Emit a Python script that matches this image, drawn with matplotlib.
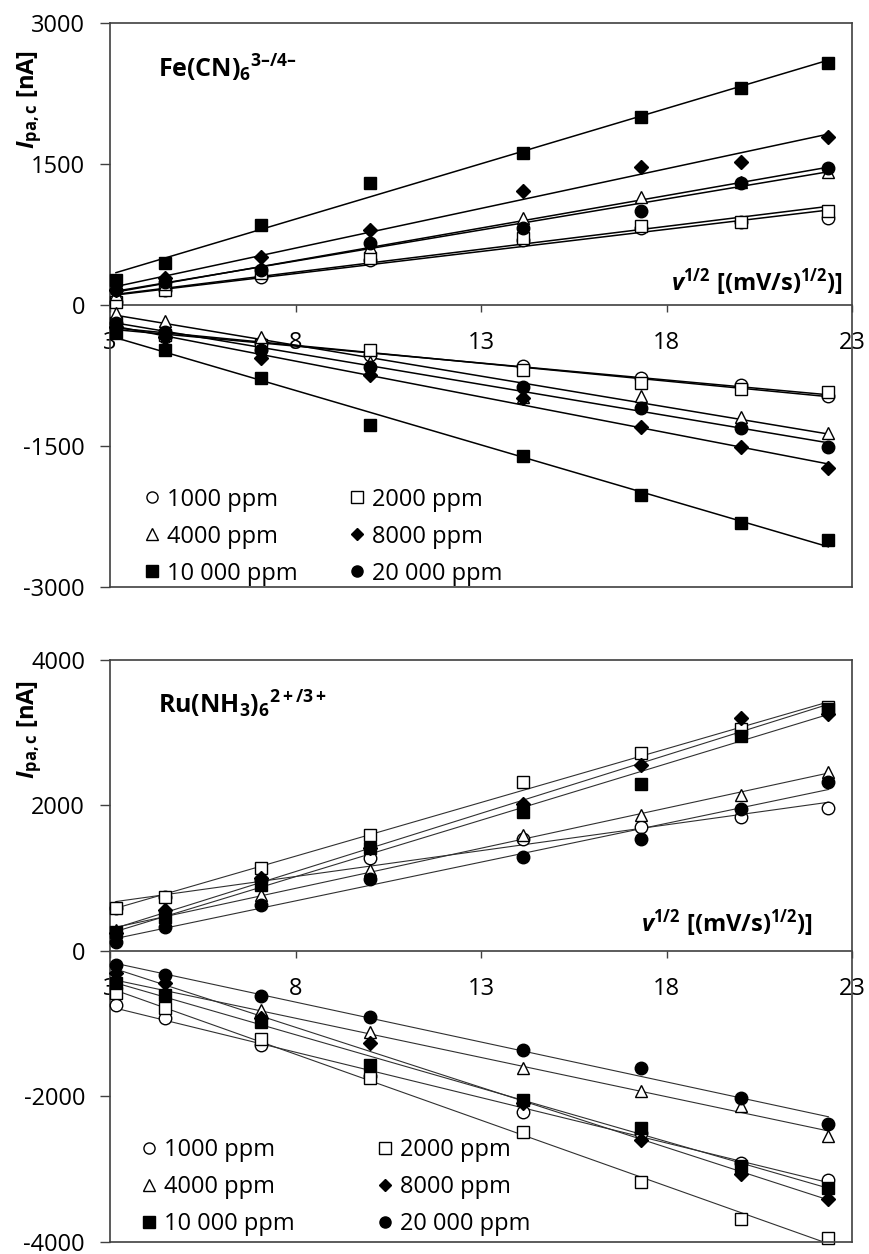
import numpy as np
import matplotlib.pyplot as plt
from matplotlib.lines import Line2D

plt.rcParams['font.family'] = ['Open Sans', 'DejaVu Sans']
plt.rcParams['axes.unicode_minus'] = False
plt.rcParams['mathtext.fontset'] = 'custom'
plt.rcParams['mathtext.rm'] = 'Open Sans'
plt.rcParams['mathtext.it'] = 'Open Sans:italic'
plt.rcParams['mathtext.bf'] = 'Open Sans:bold'
plt.rcParams['mathtext.bfit'] = 'Open Sans:italic:bold'

# square root of scan rate (10, 20, 50, 100, 200, 300, 400, 500 mV/s)
sqrt_v = [3.16, 4.47, 7.07, 10.0, 14.14, 17.32, 20.0, 22.36]
conc_labels = ['1000 ppm', '2000 ppm', '4000 ppm', '8000 ppm', '10 000 ppm', '20 000 ppm']

# Fe(CN)6 3-/4-, rows in the order of conc_labels
fe_anodic = [
    [30, 160, 298, 479, 692, 819, 883, 926],
    [30, 160, 340, 500, 713, 840, 883, 1000],
    [120, 220, 400, 620, 926, 1149, 1309, 1415],
    [160, 287, 511, 798, 1213, 1468, 1522, 1787],
    [266, 447, 851, 1298, 1617, 2000, 2309, 2575],
    [160, 245, 372, 660, 819, 1000, 1298, 1457],
]
fe_cathodic = [
    [-231, -337, -408, -532, -649, -780, -851, -968],
    [-195, -319, -426, -479, -692, -833, -894, -922],
    [-88, -177, -337, -603, -980, -968, -1188, -1365],
    [-231, -337, -567, -745, -993, -1295, -1514, -1738],
    [-301, -479, -780, -1277, -1603, -2022, -2323, -2500],
    [-195, -284, -479, -656, -869, -1099, -1312, -1514],
]

# Ru(NH3)6 2+/3+
ru_anodic = [
    [586, 745, 974, 1272, 1546, 1705, 1843, 1971],
    [586, 745, 1143, 1592, 2323, 2726, 3055, 3352],
    [288, 471, 768, 1111, 1592, 1866, 2140, 2460],
    [247, 562, 997, 1409, 2026, 2552, 3206, 3261],
    [265, 471, 906, 1409, 1911, 2291, 2950, 3330],
    [128, 334, 631, 983, 1285, 1546, 1957, 2323],
]
ru_cathodic = [
    [-741, -923, -1290, -1715, -2218, -2500, -2913, -3142],
    [-580, -786, -1211, -1747, -2493, -3179, -3681, -3942],
    [-421, -558, -810, -1107, -1610, -1930, -2136, -2548],
    [-306, -443, -923, -1266, -2090, -2593, -3060, -3416],
    [-443, -604, -970, -1564, -2054, -2433, -2959, -3256],
    [-192, -329, -617, -910, -1358, -1610, -2021, -2374],
]

markers = ['o', 's', '^', 'D', 's', 'o']
faces = ['white', 'white', 'white', 'black', 'black', 'black']
msizes = [9, 9, 9, 7, 9, 9]

frame_col = '#404040'


def draw_panel(ax, anodic, cathodic, ylim, yticks, title, line_col, line_w,
               xlab_pos, ylab_y, leg_anchor, colspace):
    x = np.array(sqrt_v)
    for series in (anodic, cathodic):
        for i, vals in enumerate(series):
            k, b = np.polyfit(x, vals, 1)
            ax.plot([x[0], x[-1]], [k * x[0] + b, k * x[-1] + b],
                    color=line_col, lw=line_w, zorder=2)
            ax.plot(x, vals, ls='none', marker=markers[i], ms=msizes[i],
                    mfc=faces[i], mec='black', mew=1.0, zorder=3, clip_on=False)

    ax.set_xlim(3, 23)
    ax.set_ylim(*ylim)
    ax.set_xticks([3, 8, 13, 18, 23])
    ax.set_yticks(yticks)
    ax.spines['bottom'].set_position(('data', 0))
    for s in ax.spines.values():
        s.set_color(frame_col)
        s.set_linewidth(1.2)
    ax.plot([0, 1], [0, 0], transform=ax.transAxes, color=frame_col, lw=1.2,
            clip_on=False, zorder=4)
    ax.tick_params(axis='x', direction='out', length=5, width=1.0,
                   color=frame_col, pad=14, labelsize=17)
    ax.tick_params(axis='y', direction='out', length=7, width=1.0,
                   color=frame_col, pad=11, labelsize=17)

    ax.text(0.064, ylab_y[0], title, transform=ax.transAxes, ha='left',
            va='center', fontsize=18)
    ax.text(-0.108, ylab_y[1], r'$\mathbfit{I}_{\mathbf{pa,c}}$ [nA]',
            transform=ax.transAxes, rotation=90, ha='center', va='center',
            fontsize=17, fontweight='bold')
    ax.text(xlab_pos[0], xlab_pos[1],
            r'$\mathbfit{v}^{\mathbf{1/2}}\ \mathbf{[(mV/s)^{1/2})]}$',
            ha='right', va='center', fontsize=17)

    handles = [Line2D([], [], ls='none', marker=markers[i], ms=msizes[i] - 1,
                      mfc=faces[i], mec='black', mew=1.0) for i in range(6)]
    order = [0, 2, 4, 1, 3, 5]
    ax.legend([handles[i] for i in order], [conc_labels[i] for i in order],
              ncol=2, loc='upper left', bbox_to_anchor=leg_anchor,
              frameon=False, fontsize=17, handlelength=0.6,
              handletextpad=0.35, borderpad=0, borderaxespad=0,
              labelspacing=0.55, columnspacing=colspace)


fig = plt.figure(figsize=(8.69, 12.54), dpi=100)
ax1 = fig.add_axes([0.1266, 0.532, 0.854, 0.4498])
ax2 = fig.add_axes([0.1266, 0.0096, 0.854, 0.4641])

draw_panel(ax1, fe_anodic, fe_cathodic, (-3000, 3000),
           [-3000, -1500, 0, 1500, 3000],
           r'$\mathbf{Fe(CN)_6{}^{3\endash/4\endash}}$', 'black', 1.1,
           (22.73, 234), (0.92, 0.8635), (0.047, 0.176), 2.2)
draw_panel(ax2, ru_anodic, ru_cathodic, (-4000, 4000),
           [-4000, -2000, 0, 2000, 4000],
           r'$\mathbf{Ru(NH_3)_6{}^{2+/3+}}$', '#303030', 0.8,
           (21.93, 384), (0.923, 0.88), (0.043, 0.178), 3.5)

fig.savefig('out.png', dpi=100)
